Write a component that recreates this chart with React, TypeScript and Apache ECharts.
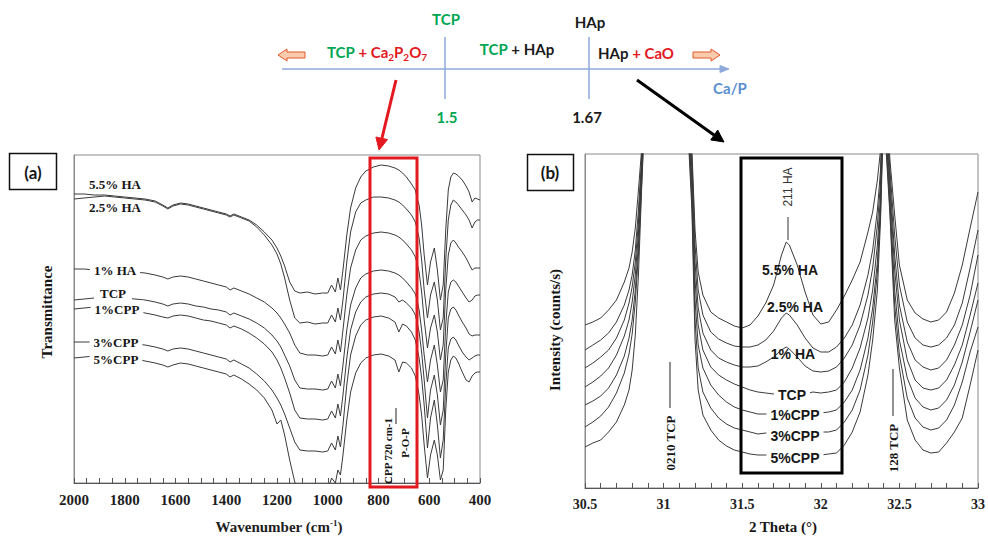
import React, { useEffect, useRef } from 'react';
import * as echarts from 'echarts';

// ---------- (a) FTIR spectra: wavenumber (cm-1) and transmittance (a.u., stacked) ----------
const wavenumber = [2000, 1960, 1920, 1880, 1840, 1800, 1760, 1720, 1680, 1650, 1630, 1610, 1580, 1550, 1520, 1490, 1460, 1430, 1400, 1385, 1370, 1340, 1310, 1280, 1250, 1220, 1200, 1185, 1170, 1150, 1130, 1110, 1080, 1050, 1020, 1000, 985, 970, 960, 950, 940, 925, 910, 890, 870, 850, 820, 790, 760, 735, 720, 705, 690, 670, 655, 648, 640, 630, 620, 607, 595, 580, 568, 556, 545, 535, 525, 515, 505, 495, 485, 470, 455, 443, 431, 420, 410, 400];

const ftirHA55 = [289, 289, 288, 288, 287, 286, 285, 284, 282, 278, 275, 278, 280, 279, 277, 275, 273, 271, 269, 267, 269, 266, 263, 258, 251, 243, 235, 227, 217, 201, 192, 190, 191, 189, 190, 190, 198, 191, 205, 193, 213, 248, 275, 295, 306, 312, 316, 318, 317, 315, 313, 310, 306, 299, 293, 285, 278, 258, 228, 198, 221, 235, 213, 183, 198, 253, 293, 306, 310, 309, 307, 303, 297, 291, 281, 285, 284, 283];
const ftirHA25 = [284, 285, 286, 287, 286, 285, 284, 283, 281, 277, 274, 277, 279, 278, 276, 274, 272, 270, 268, 266, 268, 265, 262, 256, 248, 238, 229, 219, 205, 183, 165, 160, 161, 159, 160, 160, 168, 161, 175, 163, 183, 221, 251, 271, 280, 283, 286, 286, 285, 283, 281, 278, 274, 268, 261, 254, 245, 223, 193, 165, 188, 201, 183, 153, 165, 223, 263, 278, 283, 281, 278, 273, 268, 263, 255, 261, 263, 263];
const ftirHA1 = [214, 214, 213, 213, 212, 212, 211, 210, 208, 206, 204, 206, 207, 206, 204, 202, 200, 198, 196, 193, 195, 192, 189, 185, 181, 175, 170, 165, 159, 150, 138, 130, 128, 128, 127, 128, 136, 129, 143, 131, 153, 188, 215, 233, 243, 247, 250, 251, 250, 248, 246, 243, 239, 233, 226, 220, 211, 191, 163, 135, 155, 168, 151, 123, 138, 193, 228, 240, 243, 240, 236, 231, 225, 219, 213, 215, 215, 215];
const ftirTCP = [183, 184, 185, 186, 186, 185, 184, 183, 181, 179, 177, 179, 180, 179, 177, 176, 174, 173, 171, 168, 170, 167, 164, 160, 155, 148, 142, 136, 128, 117, 103, 95, 94, 94, 93, 94, 102, 95, 109, 97, 118, 153, 178, 195, 205, 209, 212, 213, 212, 210, 208, 205, 201, 195, 189, 183, 173, 153, 128, 101, 123, 138, 118, 91, 103, 158, 191, 201, 203, 201, 197, 191, 185, 181, 183, 187, 188, 188];
const ftirCPP1 = [174, 175, 176, 176, 175, 174, 172, 170, 168, 166, 165, 167, 168, 167, 165, 163, 162, 160, 158, 155, 157, 154, 150, 145, 139, 131, 123, 115, 105, 90, 73, 65, 64, 64, 63, 64, 72, 65, 79, 67, 88, 125, 153, 171, 181, 186, 189, 190, 189, 186, 181, 183, 180, 175, 168, 161, 151, 131, 103, 65, 93, 108, 88, 58, 73, 128, 165, 174, 176, 173, 168, 161, 155, 149, 147, 148, 148, 148];
const ftirCPP3 = [141, 141, 141, 141, 141, 140, 139, 138, 136, 134, 132, 134, 135, 134, 132, 130, 128, 126, 124, 121, 123, 119, 115, 109, 102, 93, 85, 78, 69, 55, 41, 33, 32, 32, 31, 32, 40, 33, 47, 36, 58, 98, 128, 147, 158, 163, 166, 167, 165, 161, 151, 159, 157, 151, 143, 135, 125, 105, 78, 35, 65, 83, 58, 25, 43, 98, 135, 144, 146, 143, 138, 131, 126, 123, 125, 127, 128, 128];
const ftirCPP5 = [125, 126, 127, 127, 126, 125, 124, 122, 120, 118, 116, 118, 120, 119, 117, 115, 113, 111, 109, 106, 108, 104, 99, 93, 85, 73, 59, 63, 48, 23, 1, -9, -12, -12, -11, -7, 5, 0, 13, 8, 28, 63, 91, 110, 120, 125, 128, 129, 127, 123, 111, 121, 120, 115, 107, 99, 88, 68, 38, 5, 28, 43, 28, 3, 13, 73, 111, 123, 127, 125, 120, 111, 103, 101, 107, 110, 111, 111];

const ftirSeries = [
  { name: '5.5% HA', values: ftirHA55 },
  { name: '2.5% HA', values: ftirHA25 },
  { name: '1% HA', values: ftirHA1 },
  { name: 'TCP', values: ftirTCP },
  { name: '1%CPP', values: ftirCPP1 },
  { name: '3%CPP', values: ftirCPP3 },
  { name: '5%CPP', values: ftirCPP5 },
];

// ---------- (b) XRD patterns: 2 theta (deg) and intensity (counts/s, stacked) ----------
const twoTheta = [30.5, 30.55, 30.6, 30.65, 30.7, 30.75, 30.78, 30.8, 30.82, 30.84, 30.86, 30.88, 31.0, 31.15, 31.18, 31.2, 31.22, 31.25, 31.3, 31.35, 31.4, 31.45, 31.5, 31.55, 31.6, 31.65, 31.7, 31.75, 31.78, 31.8, 31.85, 31.9, 31.95, 32.0, 32.05, 32.1, 32.15, 32.2, 32.25, 32.3, 32.33, 32.36, 32.38, 32.4, 32.44, 32.47, 32.5, 32.55, 32.6, 32.65, 32.7, 32.75, 32.8, 32.85, 32.9, 32.95, 33.0];

const xrdHA55 = [163, 166, 170, 178, 188, 206, 220, 236, 260, 298, 338, 428, 788, 428, 338, 258, 216, 193, 176, 170, 166, 162, 160, 163, 172, 185, 203, 233, 246, 243, 223, 196, 173, 164, 166, 178, 192, 208, 226, 256, 276, 308, 338, 438, 328, 273, 223, 188, 175, 169, 166, 168, 176, 195, 223, 260, 296];
const xrdHA25 = [138, 143, 148, 155, 166, 183, 198, 213, 238, 278, 330, 418, 788, 418, 330, 243, 198, 173, 156, 149, 145, 142, 141, 141, 143, 148, 157, 170, 175, 173, 163, 150, 140, 136, 136, 141, 150, 163, 183, 213, 238, 278, 318, 428, 318, 253, 203, 166, 150, 143, 141, 143, 150, 163, 185, 220, 258];
const xrdHA1 = [120, 125, 131, 138, 150, 168, 185, 201, 226, 266, 323, 408, 788, 408, 320, 226, 180, 155, 138, 130, 126, 123, 121, 121, 122, 126, 131, 138, 141, 139, 131, 122, 117, 116, 117, 121, 130, 143, 163, 193, 220, 263, 306, 418, 308, 233, 183, 146, 128, 121, 118, 120, 128, 143, 163, 193, 233];
const xrdTCP = [101, 106, 112, 120, 133, 152, 168, 186, 213, 255, 316, 398, 788, 398, 308, 208, 163, 138, 121, 113, 108, 104, 101, 98, 96, 95, 94, 94, 94, 94, 94, 94, 96, 95, 96, 98, 106, 120, 140, 170, 198, 243, 293, 408, 298, 218, 168, 128, 108, 100, 98, 100, 108, 123, 143, 173, 205];
const xrdCPP1 = [83, 87, 92, 100, 113, 132, 150, 168, 198, 244, 310, 388, 788, 388, 298, 188, 143, 120, 103, 93, 86, 81, 78, 76, 74, 74, 73, 73, 74, 74, 74, 75, 75, 75, 76, 78, 86, 98, 118, 150, 180, 226, 283, 398, 288, 198, 148, 110, 90, 81, 78, 80, 88, 103, 126, 156, 188];
const xrdCPP3 = [61, 66, 72, 81, 95, 115, 134, 154, 186, 234, 303, 378, 788, 378, 288, 168, 120, 96, 80, 70, 64, 60, 58, 56, 54, 55, 54, 53, 54, 54, 55, 55, 56, 56, 56, 58, 66, 78, 98, 133, 166, 216, 276, 388, 278, 183, 133, 90, 70, 61, 58, 60, 68, 83, 106, 136, 161];
const xrdCPP5 = [41, 45, 48, 56, 66, 83, 98, 118, 153, 213, 298, 373, 788, 373, 278, 148, 98, 73, 58, 48, 42, 38, 36, 34, 33, 33, 32, 32, 33, 33, 33, 33, 33, 33, 34, 35, 43, 56, 76, 113, 148, 198, 268, 378, 273, 168, 120, 68, 48, 38, 35, 36, 45, 56, 70, 103, 138];

const xrdSeries = [
  { name: '5.5% HA', values: xrdHA55 },
  { name: '2.5% HA', values: xrdHA25 },
  { name: '1% HA', values: xrdHA1 },
  { name: 'TCP', values: xrdTCP },
  { name: '1%CPP', values: xrdCPP1 },
  { name: '3%CPP', values: xrdCPP3 },
  { name: '5%CPP', values: xrdCPP5 },
];

const ftirTicks = { min: 400, max: 2000, step: 200 };
const xrdTicks = { min: 30.5, max: 33, step: 0.5 };

// ---------- styling ----------
const SERIF = '"Liberation Serif", "Times New Roman", serif';
const SANS = '"Liberation Sans", Arial, sans-serif';
const DIAG = 'Lato, "Liberation Sans", Arial, sans-serif';
const GREEN = '#00a651';
const RED = '#e3191f';
const BLUE = '#8eaadb';
const CURVE = '#3a3a3a';

function label(x: number, y: number, t: string, o: any = {}) {
  return {
    type: 'text',
    x,
    y,
    z: 100,
    rotation: o.rotation || 0,
    style: {
      text: t,
      fill: o.color || '#161616',
      fontSize: o.size || 13,
      fontWeight: o.weight || 'bold',
      fontFamily: o.family || SERIF,
      align: 'center',
      verticalAlign: 'middle',
      backgroundColor: o.bg,
      padding: o.padding,
      rich: o.rich,
    },
  };
}

function seg(x1: number, y1: number, x2: number, y2: number, color: string, w: number) {
  return { type: 'line', z: 100, shape: { x1, y1, x2, y2 }, style: { stroke: color, lineWidth: w } };
}

function poly(points: number[][], fill: string, stroke?: string) {
  return { type: 'polygon', z: 100, shape: { points }, style: { fill, stroke: stroke || fill, lineWidth: 1 } };
}

function box(x: number, y: number, w: number, h: number, color: string, lw: number) {
  return { type: 'rect', z: 100, shape: { x, y, width: w, height: h }, style: { fill: 'none', stroke: color, lineWidth: lw } };
}

const tok = (fill: string, size = 15) => ({ fill, color: fill, fontSize: size, fontWeight: 'bold', fontFamily: DIAG, lineHeight: 20, verticalAlign: 'middle' });
const sub = (fill: string) => ({ fill, color: fill, fontSize: 10, fontWeight: 'bold', fontFamily: DIAG, lineHeight: 14, verticalAlign: 'bottom', padding: [6, 0, 0, 0] });
const diagRich = { g: tok(GREEN), r: tok(RED), k: tok('#1a1a1a'), rs: sub(RED) };

function axisCommon(fontSize: number) {
  return {
    type: 'value',
    axisLine: { show: true, onZero: false, lineStyle: { color: '#555', width: 1 } },
    axisTick: { show: true, inside: true, length: 5, lineStyle: { color: '#555' } },
    minorTick: { show: true, length: 4, lineStyle: { color: '#555' } },
    axisLabel: {
      fontFamily: SERIF,
      fontWeight: 'bold',
      fontSize,
      color: '#1e1e1e',
      margin: 9,
      formatter: (v: number) => String(v),
    },
    splitLine: { show: false },
    minorSplitLine: { show: false },
  };
}

function yCommon(max: number, gridIndex: number) {
  return {
    type: 'value',
    gridIndex,
    min: 0,
    max,
    axisLine: { show: true, onZero: false, lineStyle: { color: '#8a8a8a' } },
    axisTick: { show: false },
    axisLabel: { show: false },
    splitLine: { show: false },
  };
}

function buildOption() {
  const lines: any[] = [];
  ftirSeries.forEach((s) => {
    lines.push({
      name: 'FTIR ' + s.name,
      type: 'line',
      xAxisIndex: 0,
      yAxisIndex: 0,
      data: wavenumber.map((w, i) => [w, s.values[i]]),
      showSymbol: false,
      symbol: 'none',
      clip: true,
      silent: true,
      lineStyle: { color: CURVE, width: 1 },
    });
  });
  xrdSeries.forEach((s) => {
    lines.push({
      name: 'XRD ' + s.name,
      type: 'line',
      xAxisIndex: 1,
      yAxisIndex: 1,
      data: twoTheta.map((t, i) => [t, s.values[i]]),
      showSymbol: false,
      symbol: 'none',
      clip: true,
      silent: true,
      lineStyle: { color: CURVE, width: 1 },
    });
  });

  const graphics: any[] = [
    // ---- Ca/P phase diagram ----
    seg(282, 69, 722, 69, BLUE, 1.5),
    poly([[729, 69], [720, 65.5], [720, 72.5]], BLUE),
    seg(445, 37, 445, 99, BLUE, 1.5),
    seg(589, 37, 589, 99, BLUE, 1.5),
    label(446, 19, 'TCP', { color: GREEN, family: DIAG, size: 15 }),
    label(590, 22, 'HAp', { color: '#1a1a1a', family: DIAG, size: 15 }),
    label(377, 52, '{g|TCP}{r| + Ca}{rs|2}{r|P}{rs|2}{r|O}{rs|7}', { family: DIAG, size: 15, rich: diagRich }),
    label(517, 49, '{g|TCP}{k| + HAp}', { family: DIAG, size: 15, rich: diagRich }),
    label(636, 53, '{k|HAp}{r| + CaO}', { family: DIAG, size: 15, rich: diagRich }),
    label(447, 117, '1.5', { color: GREEN, family: DIAG, size: 15 }),
    label(587, 117, '1.67', { color: '#1a1a1a', family: DIAG, size: 15 }),
    label(730, 88, 'Ca/P', { color: '#5b8fd0', family: DIAG, size: 15 }),
    poly([[278, 55], [287, 49], [287, 52], [305, 52], [305, 58], [287, 58], [287, 61]], '#f8cbad', '#e2582a'),
    poly([[720, 55], [711, 49], [711, 52], [693, 52], [693, 58], [711, 58], [711, 61]], '#f8cbad', '#e2582a'),
    // pointer arrows
    seg(396, 80, 382, 138, RED, 3),
    poly([[379, 150], [387.5, 139.6], [375.9, 137]], RED),
    seg(637, 80, 714, 135, '#000', 3),
    poly([[724, 142], [710.7, 139.9], [717.7, 130.1]], '#000'),

    // ---- panel tags ----
    box(9.5, 153.5, 47, 36, '#111', 1.5),
    label(33, 172, '(a)', { family: DIAG, size: 17 }),
    box(527.5, 154.5, 46, 36, '#111', 1.5),
    label(550, 172, '(b)', { family: DIAG, size: 17 }),

    // ---- highlight boxes ----
    box(370, 158, 47, 329, RED, 3),
    box(741, 158, 101, 315, '#000', 3),

    // ---- axis titles ----
    label(279, 527, '{n|Wavenumber (cm}{s|-1}{n|)}', {
      size: 15,
      rich: {
        n: { fill: '#1e1e1e', fontSize: 15, fontWeight: 'bold', fontFamily: SERIF, lineHeight: 18 },
        s: { fill: '#1e1e1e', fontSize: 9, fontWeight: 'bold', fontFamily: SERIF, lineHeight: 10, verticalAlign: 'top' },
      },
    }),
    label(783, 527, '2 Theta (°)', { size: 15 }),
    label(47, 312, 'Transmittance', { size: 15, rotation: Math.PI / 2 }),
    label(555, 330, 'Intensity (counts/s)', { size: 15, rotation: Math.PI / 2 }),

    // ---- FTIR curve labels ----
    label(115, 184, '5.5% HA', { size: 13 }),
    label(115, 207, '2.5% HA', { size: 13 }),
    label(115, 270, '1% HA', { size: 13, bg: '#fff', padding: [2, 4, 2, 4] }),
    label(113, 293, 'TCP', { size: 13, bg: '#fff', padding: [2, 6, 5, 6] }),
    label(117, 309, '1%CPP', { size: 13, bg: '#fff', padding: [2, 4, 2, 4] }),
    label(116, 342, '3%CPP', { size: 13, bg: '#fff', padding: [2, 4, 2, 4] }),
    label(116, 359, '5%CPP', { size: 13, bg: '#fff', padding: [2, 4, 2, 4] }),
    label(388, 451, 'CPP 720 cm-1', { size: 11, rotation: Math.PI / 2 }),
    seg(396, 408, 396, 424, '#222', 1),
    label(405, 443, 'P-O-P', { size: 11, rotation: Math.PI / 2 }),

    // ---- XRD labels ----
    label(788, 187, '211 HA', { size: 12, family: SANS, weight: 'normal', rotation: Math.PI / 2, color: '#333' }),
    seg(788, 217, 788, 240, '#333', 1),
    label(790, 270, '5.5% HA', { size: 14, family: SANS }),
    label(795, 307, '2.5% HA', { size: 14, family: SANS }),
    label(793, 354, '1% HA', { size: 14, family: SANS }),
    label(792, 395, 'TCP', { size: 14, family: SANS, bg: '#fff', padding: [1, 4, 1, 4] }),
    label(795, 415, '1%CPP', { size: 14, family: SANS, bg: '#fff', padding: [1, 4, 1, 4] }),
    label(795, 436, '3%CPP', { size: 14, family: SANS, bg: '#fff', padding: [1, 4, 1, 4] }),
    label(795, 458, '5%CPP', { size: 14, family: SANS, bg: '#fff', padding: [1, 4, 1, 4] }),
    label(670, 443, '0210 TCP', { size: 13, rotation: Math.PI / 2 }),
    seg(670, 362, 670, 408, '#222', 1),
    label(893, 448, '128 TCP', { size: 13, rotation: Math.PI / 2 }),
    seg(893, 369, 893, 416, '#222', 1),
  ];

  return {
    animation: false,
    backgroundColor: '#ffffff',
    grid: [
      { left: 74, top: 155, width: 406, height: 328, show: true, borderColor: '#8a8a8a', borderWidth: 1, containLabel: false },
      { left: 585, top: 154, width: 396, height: 334, show: true, borderColor: '#8a8a8a', borderWidth: 1, containLabel: false },
    ],
    xAxis: [
      {
        ...axisCommon(15),
        gridIndex: 0,
        min: ftirTicks.min,
        max: ftirTicks.max,
        interval: ftirTicks.step,
        inverse: true,
        minorTick: { show: true, splitNumber: 4, length: 5, lineStyle: { color: '#555' } },
      },
      {
        ...axisCommon(14),
        gridIndex: 1,
        min: xrdTicks.min,
        max: xrdTicks.max,
        interval: xrdTicks.step,
        minorTick: { show: true, splitNumber: 5, length: 5, lineStyle: { color: '#555' } },
      },
    ],
    yAxis: [yCommon(328, 0), yCommon(334, 1)],
    series: lines,
    graphic: { elements: graphics },
  };
}

export default function App() {
  const ref = useRef<HTMLDivElement>(null);
  useEffect(() => {
    if (!ref.current) return;
    const chart = echarts.init(ref.current, null, { renderer: 'svg' });
    chart.setOption(buildOption() as any);
    return () => chart.dispose();
  }, []);
  return (
    <div
      ref={ref}
      style={{ position: 'fixed', left: 0, top: 0, width: 988, height: 536, background: '#fff' }}
    />
  );
}
